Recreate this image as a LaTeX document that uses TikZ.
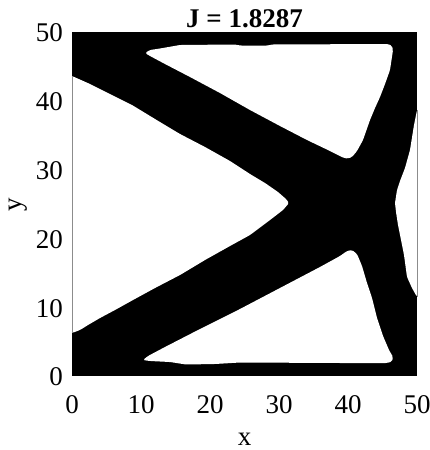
\documentclass[tikz,border=0pt]{standalone}
\usepackage{fontspec}
\setmainfont{Liberation Serif}
\begin{document}
\begin{tikzpicture}[x=1pt,y=-1pt,
  lbl/.style={inner sep=0pt,font=\fontsize{27}{32}\selectfont},
  hole/.style={fill=white,rounded corners=1.5pt},
  frameline/.style={draw=black!45,line width=0.9pt}]
\useasboundingbox (0,0) rectangle (429,450);
% design domain
\fill[black] (72,32) rectangle (417,376);
% left void
\fill[hole] (72,76) -- (90,84) -- (110,94) -- (132,105) -- (155,119) -- (180,134) -- (205,147) -- (230,161) -- (250,174) -- (265,183) -- (278,192) -- (286,199) -- (289,203)
  -- (283,210) -- (270,220) -- (250,235) -- (230,246) -- (205,260) -- (180,275) -- (155,288) -- (133,300) -- (115,310) -- (100,318) -- (88,325) -- (80,330) -- (72,333) -- cycle;
% top void
\fill[hole] (145,53) -- (150,50) -- (160,48.5) -- (180,45) -- (235,44.5) -- (240,45.5) -- (268,45.5) -- (272,44.5) -- (388,44) -- (392,46) -- (393,50) -- (390,70) -- (385,84) -- (380,97) -- (375,108) -- (370,120) -- (363,140) -- (357,151) -- (352,157) -- (348,158.5) -- (344,158)
  -- (330,151) -- (307,140) -- (280,126) -- (250,110) -- (220,93) -- (190,77) -- (165,64) -- (150,56) -- cycle;
% bottom void
\fill[hole] (143,360) -- (148,356) -- (165,347) -- (200,329) -- (240,309) -- (280,288) -- (320,267) -- (340,256) -- (347,251) -- (352,250) -- (357,254) -- (362,266) -- (367,283) -- (372,298) -- (377,318) -- (383,336) -- (389,350) -- (393,357) -- (392,361.5) -- (387,363)
  -- (340,363) -- (240,362.5) -- (215,364) -- (186,364.5) -- (170,362) -- (150,361) -- cycle;
% right void
\fill[hole] (417,110) -- (414,125) -- (410,150) -- (405,168) -- (400,181) -- (397,190) -- (395,203) -- (396,212) -- (398,225) -- (401,240) -- (404,255) -- (407,277) -- (412,288) -- (417,297) -- cycle;
% visible parts of the axes box
\draw[frameline] (72,76) -- (72,333);
\draw[frameline] (417,110) -- (417,297);
% title
\node[lbl,font=\fontsize{27}{32}\selectfont\bfseries,anchor=base] (title) at (244.5,27) {J = 1.8287};
% x tick labels
\foreach \v [count=\i from 0] in {0,10,20,30,40,50}{
  \node[lbl,anchor=base] (xt\i) at ({72+69*\i},413) {\v};
}
% y tick labels
\foreach \v [count=\i from 0] in {0,10,20,30,40,50}{
  \node[lbl,anchor=east] (yt\i) at (63,{377-68.8*\i}) {\v};
}
% axis labels
\node[lbl,anchor=base] (xlab) at (244.5,445) {x};
\node[lbl,rotate=90] (ylab) at (18,205) {y};
\end{tikzpicture}
\end{document}
